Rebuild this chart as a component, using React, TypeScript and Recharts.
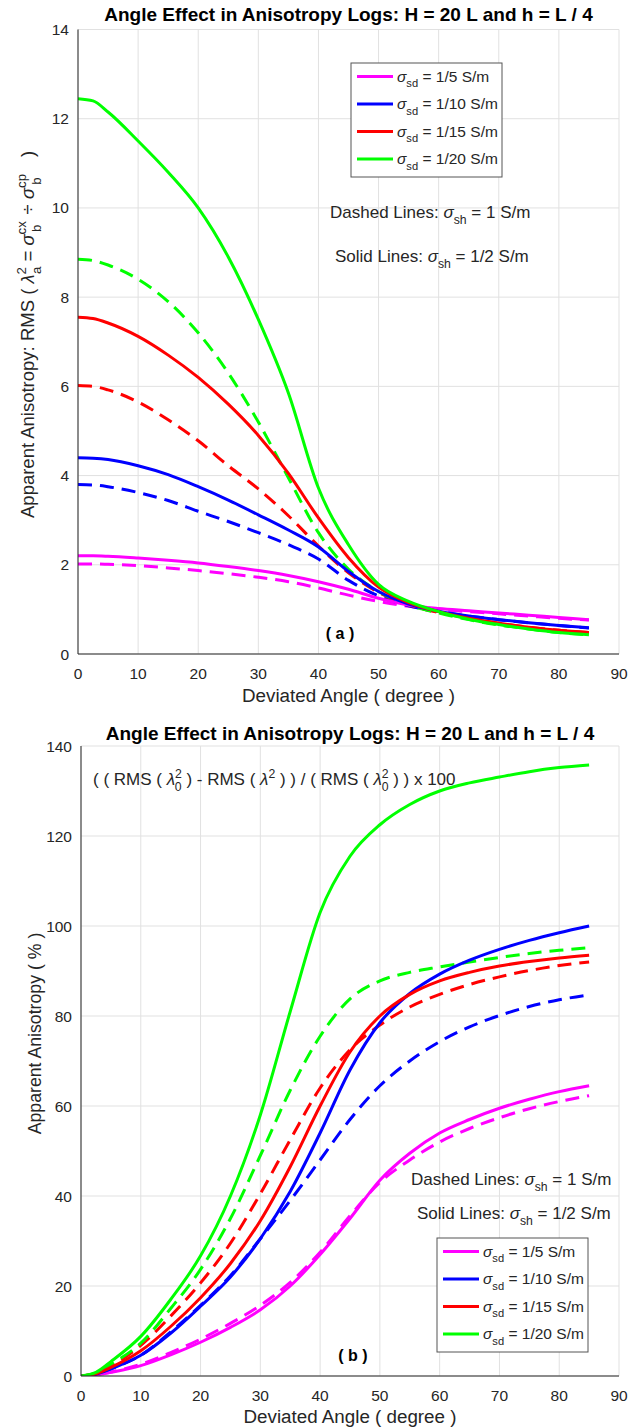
import React from 'react';
import { LineChart, Line, XAxis, YAxis, CartesianGrid } from 'recharts';

const FONT = '"Liberation Sans", Arial, Helvetica, sans-serif';
const TXT = '#262626';
const GRID = '#e1e1e1';

// ---------- data ----------
const angles = [0, 2.5, 5, 10, 15, 20, 25, 30, 35, 40, 45, 50, 55, 60, 65, 70, 75, 80, 85];
const xTicks = [0, 10, 20, 30, 40, 50, 60, 70, 80, 90];
const aYTicks = [0, 2, 4, 6, 8, 10, 12, 14];
const bYTicks = [0, 20, 40, 60, 80, 100, 120, 140];

const sdLabels = ['1/5', '1/10', '1/15', '1/20'];
const sdColors = ['#ff00ff', '#0000ff', '#ff0000', '#00ff00'];

// panel (a): RMS apparent anisotropy; solid = sigma_sh 1/2 S/m, dashed = sigma_sh 1 S/m
const aSolid5 = [2.2, 2.2, 2.19, 2.15, 2.1, 2.04, 1.96, 1.87, 1.76, 1.62, 1.45, 1.25, 1.1, 1.02, 0.97, 0.92, 0.87, 0.82, 0.77];
const aDash5 = [2.02, 2.02, 2.01, 1.98, 1.93, 1.87, 1.8, 1.72, 1.62, 1.48, 1.32, 1.18, 1.07, 1.0, 0.95, 0.9, 0.85, 0.8, 0.76];
const aSolid10 = [4.4, 4.39, 4.36, 4.22, 4.02, 3.75, 3.45, 3.12, 2.78, 2.4, 1.85, 1.4, 1.12, 0.96, 0.85, 0.77, 0.7, 0.64, 0.59];
const aDash10 = [3.8, 3.79, 3.75, 3.62, 3.44, 3.2, 2.97, 2.72, 2.45, 2.13, 1.65, 1.3, 1.08, 0.95, 0.85, 0.77, 0.7, 0.64, 0.58];
const aSolid15 = [7.55, 7.52, 7.42, 7.12, 6.7, 6.2, 5.6, 4.9, 4.05, 3.05, 2.16, 1.5, 1.15, 0.95, 0.8, 0.69, 0.6, 0.53, 0.48];
const aDash15 = [6.02, 6.0, 5.92, 5.65, 5.25, 4.78, 4.22, 3.7, 3.1, 2.42, 1.82, 1.38, 1.1, 0.93, 0.8, 0.69, 0.6, 0.53, 0.48];
const aSolid20 = [12.45, 12.4, 12.15, 11.5, 10.8, 10.0, 8.9, 7.5, 5.85, 3.72, 2.45, 1.56, 1.18, 0.95, 0.78, 0.66, 0.56, 0.48, 0.43];
const aDash20 = [8.85, 8.82, 8.72, 8.4, 7.9, 7.2, 6.3, 5.2, 3.95, 2.72, 1.9, 1.4, 1.1, 0.92, 0.77, 0.65, 0.56, 0.48, 0.43];

// panel (b): apparent anisotropy change (%)
const bSolid5 = [0, 0.2, 0.8, 2.3, 4.7, 7.5, 10.8, 14.7, 20, 27, 35, 43.5, 49.5, 54, 57, 59.5, 61.5, 63.2, 64.5];
const bDash5 = [0, 0.2, 0.9, 2.6, 5.2, 8.2, 11.7, 15.7, 20.8, 27.5, 35.6, 43, 48, 52, 55, 57.4, 59.4, 61, 62.3];
const bSolid10 = [0, 0.4, 1.6, 4.6, 9.5, 15.5, 22, 30.5, 41, 54, 68, 78.5, 85, 89.3, 92.4, 94.8, 96.8, 98.5, 100];
const bDash10 = [0, 0.4, 1.6, 4.6, 9.8, 15.7, 22.3, 30.5, 39, 48, 57, 64.5, 70, 74.3, 77.6, 80.1, 82.1, 83.6, 84.7];
const bSolid15 = [0, 0.5, 1.9, 5.6, 11, 17.4, 25, 34.5, 46.5, 60, 72, 80, 84.8, 87.8, 89.7, 91.1, 92.1, 92.9, 93.5];
const bDash15 = [0, 0.6, 2.2, 6.8, 13.3, 20.7, 29.5, 40.5, 52.5, 64, 72.5, 78, 82, 84.8, 87, 88.7, 90.1, 91.2, 92];
const bSolid20 = [0, 0.8, 3.2, 8.8, 17, 26.7, 40, 58, 81, 103, 115.5, 122.5, 127, 130, 131.8, 133.1, 134.3, 135.2, 135.8];
const bDash20 = [0, 0.7, 2.6, 7.3, 15, 23.7, 35, 49, 63.5, 75.5, 83.8, 87.8, 89.7, 90.9, 92, 93, 93.9, 94.6, 95.2];

const aSolids = [aSolid5, aSolid10, aSolid15, aSolid20];
const aDashes = [aDash5, aDash10, aDash15, aDash20];
const bSolids = [bSolid5, bSolid10, bSolid15, bSolid20];
const bDashes = [bDash5, bDash10, bDash15, bDash20];

function buildRows(solids: number[][], dashes: number[][]) {
  return angles.map((a, i) => {
    const r: Record<string, number> = { angle: a };
    solids.forEach((s, k) => { r['s' + k] = s[i]; });
    dashes.forEach((s, k) => { r['d' + k] = s[i]; });
    return r;
  });
}
const aRows = buildRows(aSolids, aDashes);
const bRows = buildRows(bSolids, bDashes);

// ---------- text helpers ----------
type Seg = { t: string; pos?: 'sup' | 'sub'; it?: boolean; back?: number };
function segs(list: Seg[], size: number) {
  let cur = 0;
  return list.map((s, i) => {
    const target = s.pos === 'sup' ? -0.42 * size : s.pos === 'sub' ? 0.36 * size : 0;
    const dy = target - cur;
    cur = target;
    return (
      <tspan key={i} dy={dy} dx={s.back ? -s.back : undefined} fontSize={s.pos ? size * 0.72 : size} fontStyle={s.it ? 'italic' : 'normal'}>
        {s.t}
      </tspan>
    );
  });
}

// ---------- panel ----------
type PanelProps = {
  rows: Record<string, number>[];
  yTicks: number[];
  yMax: number;
  top: number;
  yAxisW: number;
  xAxisH: number;
};

function Panel({ rows, yTicks, yMax, top, yAxisW, xAxisH }: PanelProps) {
  const tickStyle = { fill: TXT, fontSize: 15.5, fontFamily: FONT };
  return (
    <LineChart width={642} height={714} data={rows} margin={{ top, right: 23, bottom: 0, left: 0 }}>
      <CartesianGrid stroke={GRID} strokeWidth={1} />
      <XAxis xAxisId="in" dataKey="angle" type="number" domain={[0, 90]} ticks={xTicks} height={0} mirror tick={false} tickSize={5} tickLine={{ stroke: TXT }} axisLine={false} allowDataOverflow />
      <XAxis dataKey="angle" type="number" domain={[0, 90]} ticks={xTicks} interval={0} height={xAxisH} tickSize={0} tickMargin={14} tick={tickStyle} axisLine={{ stroke: TXT }} tickLine={false} allowDataOverflow />
      <XAxis xAxisId="top" orientation="top" dataKey="angle" type="number" domain={[0, 90]} ticks={xTicks} height={0} mirror tick={false} tickSize={5} tickLine={{ stroke: TXT }} axisLine={{ stroke: TXT }} allowDataOverflow />
      <YAxis yAxisId="in" type="number" domain={[0, yMax]} ticks={yTicks} width={0} mirror tick={false} tickSize={5} tickLine={{ stroke: TXT }} axisLine={false} allowDataOverflow />
      <YAxis type="number" domain={[0, yMax]} ticks={yTicks} interval={0} width={yAxisW} tickSize={0} tickMargin={9} tick={tickStyle} axisLine={{ stroke: TXT }} tickLine={false} allowDataOverflow />
      <YAxis yAxisId="right" orientation="right" type="number" domain={[0, yMax]} ticks={yTicks} width={0} mirror tick={false} tickSize={5} tickLine={{ stroke: TXT }} axisLine={{ stroke: TXT }} allowDataOverflow />
      {sdColors.map((c, k) => (
        <Line key={'d' + k} dataKey={'d' + k} type="monotone" stroke={c} strokeWidth={3} strokeDasharray="14 8" dot={false} activeDot={false} isAnimationActive={false} />
      ))}
      {sdColors.map((c, k) => (
        <Line key={'s' + k} dataKey={'s' + k} type="monotone" stroke={c} strokeWidth={3} dot={false} activeDot={false} isAnimationActive={false} />
      ))}
    </LineChart>
  );
}

function LegendBox({ x, y }: { x: number; y: number }) {
  const w = 151, h = 114, step = 27.5;
  return (
    <g>
      <rect x={x} y={y} width={w} height={h} fill="#fff" stroke="#555" strokeWidth={1} />
      {sdLabels.map((l, k) => {
        const cy = y + 13.5 + k * step;
        return (
          <g key={k}>
            <line x1={x + 6} x2={x + 42} y1={cy} y2={cy} stroke={sdColors[k]} strokeWidth={3} />
            <text x={x + 46} y={cy + 5} fontSize={15.5} fill={TXT} style={{ whiteSpace: 'pre' }}>
              {segs([{ t: 'σ', it: true }, { t: 'sd', pos: 'sub' }, { t: ' = ' + l + ' S/m' }], 15.5)}
            </text>
          </g>
        );
      })}
    </g>
  );
}

function Notes({ x1, y1, x2, y2 }: { x1: number; y1: number; x2: number; y2: number }) {
  return (
    <g>
      <text x={x1} y={y1} fontSize={17} fill={TXT} style={{ whiteSpace: 'pre' }}>
        {segs([{ t: 'Dashed Lines: ' }, { t: 'σ', it: true }, { t: 'sh', pos: 'sub' }, { t: ' = 1 S/m' }], 17)}
      </text>
      <text x={x2} y={y2} fontSize={17} fill={TXT} style={{ whiteSpace: 'pre' }}>
        {segs([{ t: 'Solid Lines: ' }, { t: 'σ', it: true }, { t: 'sh', pos: 'sub' }, { t: ' = 1/2 S/m' }], 17)}
      </text>
    </g>
  );
}

const TITLE = 'Angle Effect in Anisotropy Logs: H = 20 L and h = L / 4';

export default function App() {
  return (
    <div style={{ position: 'absolute', left: 0, top: 0, width: 642, height: 1428, background: '#fff', fontFamily: FONT }}>
      <div style={{ position: 'absolute', left: 0, top: 0 }}>
        <Panel rows={aRows} yTicks={aYTicks} yMax={14} top={29.5} yAxisW={78} xAxisH={60} />
      </div>
      <div style={{ position: 'absolute', left: 0, top: 714 }}>
        <Panel rows={bRows} yTicks={bYTicks} yMax={140} top={32} yAxisW={81} xAxisH={52} />
      </div>
      <svg width={642} height={1428} style={{ position: 'absolute', left: 0, top: 0, pointerEvents: 'none' }} fontFamily={FONT}>
        {/* panel (a) */}
        <text x={348.5} y={21} textAnchor="middle" fontWeight="bold" fontSize={19} fill="#000">{TITLE}</text>
        <text x={348.5} y={702} textAnchor="middle" fontSize={18.8} fill={TXT}>Deviated Angle ( degree )</text>
        <text transform="rotate(-90)" x={-518} y={34} fontSize={18.5} fill={TXT} style={{ whiteSpace: 'pre' }}>
          {segs([
            { t: 'Apparent Anisotropy: RMS ( ' },
            { t: 'λ', it: true },
            { t: '2', pos: 'sup' },
            { t: 'a', pos: 'sub', back: 7 },
            { t: ' = ' },
            { t: 'σ', it: true },
            { t: 'cx', pos: 'sup' },
            { t: 'b', pos: 'sub', back: 11 },
            { t: '  ÷ ' },
            { t: 'σ', it: true },
            { t: 'cp', pos: 'sup' },
            { t: 'b', pos: 'sub', back: 11 },
            { t: '    )' },
          ], 18.5)}
        </text>
        <LegendBox x={351} y={63} />
        <Notes x1={330} y1={218} x2={335} y2={262} />
        <text x={340} y={639} textAnchor="middle" fontWeight="bold" fontSize={16} fill="#000">( a )</text>

        {/* panel (b) */}
        <text x={350} y={740} textAnchor="middle" fontWeight="bold" fontSize={19} fill="#000">{TITLE}</text>
        <text x={350} y={1423} textAnchor="middle" fontSize={18.8} fill={TXT}>Deviated Angle ( degree )</text>
        <text transform="rotate(-90)" x={-1033.5} y={41} textAnchor="middle" fontSize={17.7} fill={TXT}>Apparent Anisotropy ( % )</text>
        <text x={93} y={785} fontSize={17} fill={TXT} style={{ whiteSpace: 'pre' }}>
          {segs([
            { t: '( ( RMS ( ' },
            { t: 'λ', it: true },
            { t: '2', pos: 'sup' },
            { t: '0', pos: 'sub', back: 7 },
            { t: ' ) - RMS ( ' },
            { t: 'λ', it: true },
            { t: '2', pos: 'sup' },
            { t: ' ) ) / ( RMS ( ' },
            { t: 'λ', it: true },
            { t: '2', pos: 'sup' },
            { t: '0', pos: 'sub', back: 7 },
            { t: ' ) ) x 100' },
          ], 17)}
        </text>
        <Notes x1={411} y1={1185} x2={417} y2={1219} />
        <LegendBox x={437} y={1238} />
        <text x={353} y={1361} textAnchor="middle" fontWeight="bold" fontSize={16} fill="#000">( b )</text>
      </svg>
    </div>
  );
}
